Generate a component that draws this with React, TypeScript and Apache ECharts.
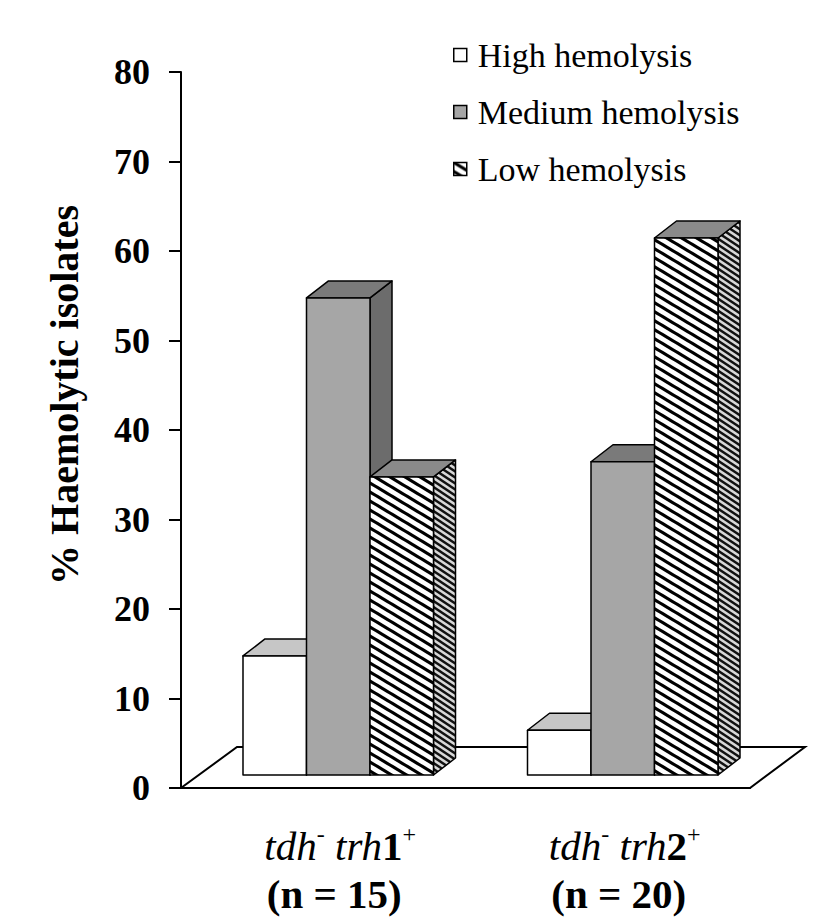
import React, { useEffect, useRef } from 'react';
import * as echarts from 'echarts';

// ---------- data ----------
const CATEGORIES = ['tdh- trh1+ (n = 15)', 'tdh- trh2+ (n = 20)'];
const GENE_VARIANTS = ['1', '2'];
const SAMPLE_SIZES = [15, 20];
const SERIES_NAMES = ['High hemolysis', 'Medium hemolysis', 'Low hemolysis'];
const HIGH = [13.3, 5.0];
const MEDIUM = [53.3, 35.0];
const LOW = [33.3, 60.0];
const Y_MIN = 0;
const Y_MAX = 80;
const Y_INTERVAL = 10;
const Y_TITLE = '% Haemolytic isolates';

// ---------- style ----------
const SERIF = '"Liberation Serif", "Times New Roman", serif';
const BAR_FRAC = 0.2232; // bar width as a fraction of the category band
const GROUP_SHIFT = 15; // bars sit a little behind the front of the floor
const FRONT_DY = 13;
const DEPTH_DX = 22;
const DEPTH_DY = 17;
const FLOOR_DX = 56;
const FLOOR_DY = 41;

function stripePattern(W: number, H: number, lw: number, bg: string, fg: string) {
  const c = document.createElement('canvas');
  c.width = W;
  c.height = H;
  const ctx = c.getContext('2d')!;
  ctx.fillStyle = bg;
  ctx.fillRect(0, 0, W, H);
  ctx.strokeStyle = fg;
  ctx.lineWidth = lw;
  for (let k = -2; k <= 2; k++) {
    ctx.beginPath();
    ctx.moveTo(k * W - W, -H);
    ctx.lineTo(k * W + 2 * W, 2 * H);
    ctx.stroke();
  }
  return { image: c, repeat: 'repeat', imageWidth: W, imageHeight: H } as any;
}

export default function App() {
  const ref = useRef<HTMLDivElement>(null);

  useEffect(() => {
    const el = ref.current!;
    const chart = echarts.init(el, null, { renderer: 'svg' });

    const hatchFront = stripePattern(15, 9, 3.2, '#ffffff', '#000000');
    const hatchSide = stripePattern(9, 6, 2.4, '#d8d8d8', '#111111');

    const faces = [
      { front: '#ffffff', top: '#c6c6c6', side: '#e0e0e0' },
      { front: '#a6a6a6', top: '#7a7a7a', side: '#6c6c6c' },
      { front: hatchFront, top: '#8a8a8a', side: hatchSide },
    ];
    const legendColors = ['#ffffff', '#a6a6a6', hatchFront];

    const makeBarRenderer = (barIdx: number) => (params: any, api: any) => {
      const ci = api.value(0);
      const v = api.value(1);
      const p0 = api.coord([ci, 0]);
      const p1 = api.coord([ci, v]);
      const band = api.size([1, 0])[0];
      const w = band * BAR_FRAC;
      const x0 = p0[0] + GROUP_SHIFT + (barIdx - 1.5) * w;
      const x1 = x0 + w;
      const yb = p0[1] - FRONT_DY;
      const yt = p1[1] - FRONT_DY;
      const f = faces[barIdx];
      const edge = { stroke: '#000', lineWidth: 1.5, lineJoin: 'round' };
      return {
        type: 'group',
        children: [
          {
            type: 'polygon',
            shape: {
              points: [
                [x1, yt],
                [x1 + DEPTH_DX, yt - DEPTH_DY],
                [x1 + DEPTH_DX, yb - DEPTH_DY],
                [x1, yb],
              ],
            },
            style: { fill: f.side, ...edge },
          },
          {
            type: 'polygon',
            shape: {
              points: [
                [x0, yt],
                [x1, yt],
                [x1 + DEPTH_DX, yt - DEPTH_DY],
                [x0 + DEPTH_DX, yt - DEPTH_DY],
              ],
            },
            style: { fill: f.top, ...edge },
          },
          {
            type: 'rect',
            shape: { x: x0, y: yt, width: w, height: yb - yt },
            style: { fill: f.front, ...edge },
          },
        ],
      };
    };

    const floorRenderer = (params: any, api: any) => {
      const cs = params.coordSys;
      const y0 = api.coord([0, 0])[1];
      const xl = cs.x;
      const xr = cs.x + cs.width;
      return {
        type: 'polygon',
        shape: {
          points: [
            [xl, y0],
            [xr, y0],
            [xr + FLOOR_DX - 1, y0 - FLOOR_DY],
            [xl + FLOOR_DX, y0 - FLOOR_DY],
          ],
        },
        style: { fill: '#fff', stroke: '#000', lineWidth: 2 },
      };
    };

    const seriesData = [HIGH, MEDIUM, LOW];

    const option: any = {
      animation: false,
      backgroundColor: '#ffffff',
      grid: { left: 181, right: 69, top: 72, bottom: 129, containLabel: false },
      legend: {
        data: SERIES_NAMES.map((n, i) => ({
          name: n,
          icon: 'rect',
          itemStyle: { color: legendColors[i], borderColor: '#000', borderWidth: 1.5 },
        })),
        orient: 'vertical',
        left: 448,
        top: 33,
        itemWidth: 13,
        itemHeight: 13,
        itemGap: 23,
        selectedMode: false,
        textStyle: {
          fontFamily: SERIF,
          fontSize: 34,
          color: '#000',
          lineHeight: 34,
          padding: [0, 0, 0, 6],
        },
      },
      xAxis: {
        type: 'category',
        data: CATEGORIES,
        axisLine: { show: true, lineStyle: { color: '#000', width: 2 } },
        axisTick: { show: false },
        splitLine: { show: false },
        axisLabel: {
          interval: 0,
          margin: 34,
          padding: [0, 0, 0, 22],
          formatter: (_v: string, idx: number) =>
            `{i0|tdh}{sup|-}{i| trh}{b|${GENE_VARIANTS[idx]}}{sup|+}\n{b|(n = ${SAMPLE_SIZES[idx]})}`,
          rich: {
            i0: {
              fontFamily: SERIF,
              fontStyle: 'italic',
              fontSize: 41,
              lineHeight: 48,
              color: '#000',
              padding: [0, 0, 0, 12],
            },
            i: { fontFamily: SERIF, fontStyle: 'italic', fontSize: 41, lineHeight: 48, color: '#000' },
            b: { fontFamily: SERIF, fontWeight: 'bold', fontSize: 41, lineHeight: 48, color: '#000' },
            sup: {
              fontFamily: SERIF,
              fontSize: 24,
              lineHeight: 28,
              verticalAlign: 'top',
              color: '#000',
            },
          },
        },
      },
      yAxis: {
        type: 'value',
        min: Y_MIN,
        max: Y_MAX,
        interval: Y_INTERVAL,
        name: Y_TITLE,
        nameLocation: 'middle',
        nameRotate: 90,
        nameGap: 97,
        nameTextStyle: {
          fontFamily: SERIF,
          fontWeight: 'bold',
          fontSize: 40,
          color: '#000',
          padding: [0, 0, 0, 70],
        },
        axisLine: { show: true, lineStyle: { color: '#000', width: 2 } },
        axisTick: { show: true, length: 12, lineStyle: { color: '#000', width: 2 } },
        splitLine: { show: false },
        axisLabel: {
          margin: 31,
          fontFamily: SERIF,
          fontWeight: 'bold',
          fontSize: 36,
          color: '#000',
        },
      },
      series: [
        {
          name: 'floor',
          type: 'custom',
          renderItem: floorRenderer,
          data: [[0, 0]],
          encode: { x: 0, y: 1 },
          silent: true,
        },
        ...SERIES_NAMES.map((name, i) => ({
          name,
          type: 'custom',
          renderItem: makeBarRenderer(i),
          data: seriesData[i].map((v, ci) => [ci, v]),
          encode: { x: 0, y: 1 },
          itemStyle: { color: legendColors[i], borderColor: '#000', borderWidth: 1.5 },
        })),
      ],
    };

    chart.setOption(option);
    return () => chart.dispose();
  }, []);

  return (
    <div
      ref={ref}
      style={{ position: 'absolute', left: 0, top: 0, width: 819, height: 917, background: '#fff' }}
    />
  );
}
